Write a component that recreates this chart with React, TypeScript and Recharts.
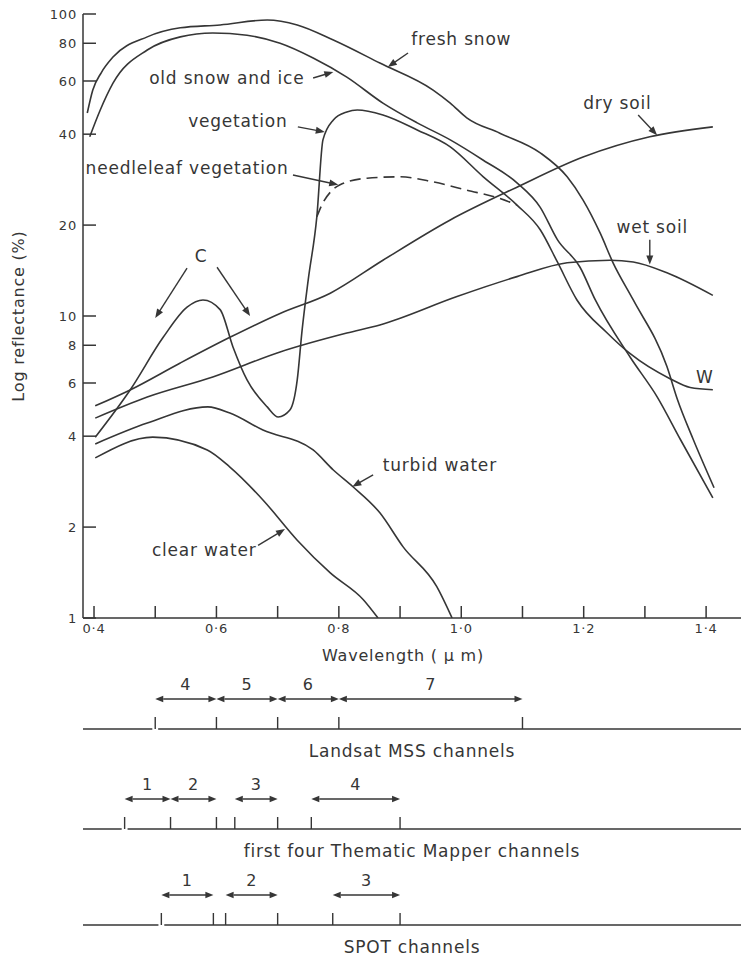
import React from 'react';
import { LineChart, Line, XAxis, YAxis, ReferenceLine, ReferenceDot } from 'recharts';

const INK = '#363636';
const FONT = '"DejaVu Sans", "Liberation Sans", sans-serif';

const wavelengthDomain = [0.382, 1.457];
const wavelengthTicks = [0.4, 0.5, 0.6, 0.7, 0.8, 0.9, 1.0, 1.1, 1.2, 1.3, 1.4];
const labelledWavelengths = [0.4, 0.6, 0.8, 1.0, 1.2, 1.4];
const reflectanceTicks = [1, 2, 4, 6, 8, 10, 20, 40, 60, 80, 100];

// [wavelength (µm), reflectance (%)]
const freshSnow = [
  [0.389, 47], [0.398, 56], [0.412, 64], [0.431, 72], [0.487, 84], [0.541, 90], [0.606, 92], [0.683, 95.5],
  [0.732, 92], [0.791, 82], [0.867, 68.8], [0.954, 56], [0.982, 50.7], [1.009, 45.3], [1.063, 40.3],
  [1.129, 34.7], [1.173, 28.9], [1.199, 24.2], [1.227, 18.8], [1.248, 15], [1.281, 11.3],
  [1.336, 6.8], [1.353, 5.3], [1.379, 3.9], [1.413, 2.7],
];
const oldSnow = [
  [0.393, 39.2], [0.41, 48], [0.431, 59], [0.487, 76], [0.541, 84], [0.594, 86.5], [0.65, 85],
  [0.704, 80], [0.758, 71.5], [0.813, 61.8], [0.872, 50.7], [0.928, 43.6], [0.982, 38.3],
  [1.036, 32.8], [1.091, 27.6], [1.129, 22.9], [1.157, 17.9], [1.194, 14.5], [1.219, 11.3],
  [1.276, 7.3], [1.32, 5.4], [1.358, 3.9], [1.411, 2.5],
];
const vegetation = [
  [0.402, 3.97], [0.459, 5.69], [0.513, 8.5], [0.552, 10.7], [0.578, 11.3], [0.606, 10.5],
  [0.627, 7.9], [0.65, 6.14], [0.683, 5.0], [0.701, 4.63], [0.72, 4.88], [0.732, 6.14],
  [0.74, 9.0], [0.75, 13.2], [0.764, 21.3], [0.774, 38.3], [0.791, 44.6], [0.813, 47.4],
  [0.83, 48.1], [0.872, 46.3], [0.928, 41.3], [0.982, 36.3], [1.036, 28.9], [1.091, 23.3],
  [1.129, 19.3], [1.157, 15.1], [1.189, 11.3], [1.238, 8.8], [1.276, 7.5], [1.341, 6.2],
  [1.374, 5.8], [1.411, 5.7],
];
const needleleaf = [
  [0.764, 21.3], [0.773, 23.5], [0.786, 25.7], [0.802, 27.2], [0.846, 28.6], [0.9, 28.9],
  [0.954, 27.8], [1.009, 26.1], [1.063, 24.5], [1.091, 23.3],
];
const drySoil = [
  [0.402, 5.04], [0.459, 5.69], [0.541, 6.99], [0.622, 8.5], [0.704, 10.2], [0.786, 11.9],
  [0.872, 15.3], [0.982, 20.8], [1.091, 26.7], [1.199, 33.6], [1.308, 39.2], [1.411, 42.3],
];
const wetSoil = [
  [0.402, 4.59], [0.487, 5.39], [0.594, 6.28], [0.704, 7.6], [0.813, 8.78], [0.867, 9.34],
  [0.993, 11.6], [1.091, 13.5], [1.173, 15.0], [1.243, 15.3], [1.281, 15.1], [1.336, 13.9],
  [1.411, 11.7],
];
const turbidWater = [
  [0.402, 3.77], [0.487, 4.42], [0.586, 5.0], [0.622, 4.77], [0.676, 4.19], [0.758, 3.6],
  [0.791, 3.09], [0.823, 2.72], [0.867, 2.23], [0.905, 1.72], [0.96, 1.27], [0.985, 1.0],
];
const clearWater = [
  [0.402, 3.39], [0.496, 3.97], [0.585, 3.6], [0.622, 3.16], [0.676, 2.46], [0.732, 1.81],
  [0.786, 1.41], [0.84, 1.15], [0.864, 1.0],
];

const series = [
  { key: 'freshSnow', points: freshSnow },
  { key: 'oldSnow', points: oldSnow },
  { key: 'vegetation', points: vegetation },
  { key: 'needleleaf', points: needleleaf, dashed: true },
  { key: 'drySoil', points: drySoil },
  { key: 'wetSoil', points: wetSoil },
  { key: 'turbidWater', points: turbidWater },
  { key: 'clearWater', points: clearWater },
];

// curve names and where they sit (data units)
const curveNames = ['fresh snow', 'old snow and ice', 'vegetation', 'needleleaf vegetation', 'dry soil', 'wet soil', 'W', 'C', 'turbid water', 'clear water'];
const curveNameAt = [[1.0, 82.6], [0.617, 61.4], [0.635, 44.2], [0.552, 30.9], [1.255, 50.7], [1.312, 19.7], [1.398, 6.28], [0.575, 15.8], [0.965, 3.21], [0.58, 1.68]];

// pointer arrows: tail -> head
const pointerFrom = [[0.913, 74.3], [0.758, 61.4], [0.733, 42.3], [0.725, 29.3], [1.289, 46.3], [1.308, 17.9], [0.552, 14.4], [0.601, 14.5], [0.856, 2.98], [0.668, 1.74]];
const pointerTo = [[0.88, 66.8], [0.791, 64.3], [0.777, 40.7], [0.799, 27.2], [1.32, 39.7], [1.308, 14.8], [0.5, 9.85], [0.655, 10.0], [0.822, 2.72], [0.712, 1.97]];

// sensor channels
const mssNames = ['4', '5', '6', '7'];
const mssFrom = [0.5, 0.6, 0.7, 0.8];
const mssTo = [0.6, 0.7, 0.8, 1.1];
const mssEdges = [0.5, 0.6, 0.7, 0.8, 1.1];

const tmNames = ['1', '2', '3', '4'];
const tmFrom = [0.45, 0.525, 0.63, 0.755];
const tmTo = [0.525, 0.6, 0.7, 0.9];
const tmEdges = [0.45, 0.525, 0.6, 0.63, 0.7, 0.755, 0.9];

const spotNames = ['1', '2', '3'];
const spotFrom = [0.51, 0.615, 0.79];
const spotTo = [0.595, 0.7, 0.9];
const spotEdges = [0.51, 0.595, 0.615, 0.7, 0.79, 0.9];

const ARROW_LEVEL = 0.5;

const Arrow = ({ x1, y1, x2, y2, both, head = 9, half = 3.5, width = 1.4 }: any) => {
  const dx = x2 - x1;
  const dy = y2 - y1;
  const len = Math.hypot(dx, dy) || 1;
  const ux = dx / len;
  const uy = dy / len;
  const tri = (tx: number, ty: number, sx: number, sy: number) => {
    const bx = tx - sx * head;
    const by = ty - sy * head;
    return `${tx},${ty} ${bx - sy * half},${by + sx * half} ${bx + sy * half},${by - sx * half}`;
  };
  const sx = both ? x1 + ux * head : x1;
  const sy = both ? y1 + uy * head : y1;
  return (
    <g>
      <line x1={sx} y1={sy} x2={x2 - ux * head * 0.8} y2={y2 - uy * head * 0.8} stroke={INK} strokeWidth={width} />
      <polygon points={tri(x2, y2, ux, uy)} fill={INK} />
      {both && <polygon points={tri(x1, y1, -ux, -uy)} fill={INK} />}
    </g>
  );
};

const YTick = ({ x, y, payload }: any) => (
  <g>
    <line x1={x} y1={y} x2={x + 13} y2={y} stroke={INK} strokeWidth={1.5} />
    <text x={x - 6} y={y} dy="0.36em" textAnchor="end" fill={INK} fontSize={13} fontFamily={FONT}>
      {payload.value}
    </text>
  </g>
);

const XTick = ({ x, y, payload }: any) => (
  <g>
    <line x1={x} y1={y} x2={x} y2={y - 12} stroke={INK} strokeWidth={1.5} />
    {labelledWavelengths.some(v => Math.abs(v - payload.value) < 1e-6) && (
      <text x={x} y={y + 15} textAnchor="middle" fill={INK} fontSize={13} fontFamily={FONT}>
        {payload.value.toFixed(1).replace('.', '·')}
      </text>
    )}
  </g>
);

const EdgeTick = ({ x, y }: any) => (
  <line x1={x} y1={y} x2={x} y2={y - 12} stroke={INK} strokeWidth={1.4} />
);

const YTitle = ({ viewBox, value }: any) => {
  const cx = viewBox.x + viewBox.width - 65;
  const cy = viewBox.y + viewBox.height / 2;
  return (
    <text x={cx} y={cy} transform={`rotate(-90 ${cx} ${cy})`} textAnchor="middle" dy="0.36em"
      fill={INK} fontSize={16} fontFamily={FONT}>
      {value}
    </text>
  );
};

const labelStyle = { fill: INK, fontSize: 17, fontFamily: FONT };

// each row: baseline sits 60px below the row's top
const ChannelRow = ({ title, names, from, to, edges, top }: any) => (
  <div style={{ position: 'absolute', left: 0, top }}>
    <LineChart width={741} height={100} margin={{ top: 0, right: 0, bottom: 39, left: 83 }}>
      <XAxis type="number" dataKey="w" domain={wavelengthDomain} allowDataOverflow ticks={edges} interval={0}
        height={1} tickSize={0} tickMargin={0} tickLine={false} tick={<EdgeTick />}
        axisLine={{ stroke: INK, strokeWidth: 1.5 }}
        label={{ value: title, position: 'bottom', offset: 15, ...labelStyle }} />
      <YAxis hide type="number" domain={[0, 1]} />
      <Line data={[{ w: edges[0], v: 0 }]} dataKey="v" stroke="none" dot={false} isAnimationActive={false} />
      {names.map((n: string, i: number) => (
        <ReferenceLine key={n} segment={[{ x: from[i], y: ARROW_LEVEL }, { x: to[i], y: ARROW_LEVEL }]}
          shape={(p: any) => <Arrow {...p} both head={8} half={3.2} width={1.5} />}
          label={{ value: n, position: 'top', offset: 9, ...labelStyle, fontSize: 16 }} />
      ))}
    </LineChart>
  </div>
);

export default function App() {
  return (
    <div style={{ position: 'absolute', left: 0, top: 0, width: 741, height: 957, overflow: 'hidden', background: '#fff', fontFamily: FONT, letterSpacing: '0.8px' }}>
      <LineChart width={741} height={672} margin={{ top: 14, right: 0, bottom: 53, left: 82 }}>
        <XAxis type="number" dataKey="w" domain={wavelengthDomain} allowDataOverflow ticks={wavelengthTicks}
          interval={0} height={1} tickSize={0} tickMargin={0} tickLine={false} tick={<XTick />}
          axisLine={{ stroke: INK, strokeWidth: 1.5 }}
          label={{ value: 'Wavelength ( μ m)', position: 'bottom', offset: 31, dx: -9, fill: INK, fontSize: 16, fontFamily: FONT }} />
        <YAxis type="number" scale="log" domain={[1, 100]} allowDataOverflow ticks={reflectanceTicks}
          interval={0} width={1} tickSize={0} tickMargin={0} tickLine={false} tick={<YTick />}
          axisLine={{ stroke: INK, strokeWidth: 1.5 }}
          label={{ value: 'Log reflectance (%)', content: YTitle }} />
        {series.map(s => (
          <Line key={s.key} data={s.points.map(([w, r]) => ({ w, r }))} dataKey="r" type="monotone"
            stroke={INK} strokeWidth={1.6} strokeDasharray={s.dashed ? '11 6' : undefined}
            dot={false} activeDot={false} isAnimationActive={false} />
        ))}
        {pointerFrom.map((p, i) => (
          <ReferenceLine key={`ptr-${i}`} segment={[{ x: p[0], y: p[1] }, { x: pointerTo[i][0], y: pointerTo[i][1] }]}
            shape={(props: any) => <Arrow {...props} />} />
        ))}
        {curveNames.map((name, i) => (
          <ReferenceDot key={name} x={curveNameAt[i][0]} y={curveNameAt[i][1]} r={0} fill="none" stroke="none"
            label={{ value: name, position: 'center', ...labelStyle }} />
        ))}
      </LineChart>
      <ChannelRow title="Landsat MSS channels" names={mssNames} from={mssFrom} to={mssTo} edges={mssEdges} top={669} />
      <ChannelRow title="first four Thematic Mapper channels" names={tmNames} from={tmFrom} to={tmTo} edges={tmEdges} top={769} />
      <ChannelRow title="SPOT channels" names={spotNames} from={spotFrom} to={spotTo} edges={spotEdges} top={865} />
    </div>
  );
}
